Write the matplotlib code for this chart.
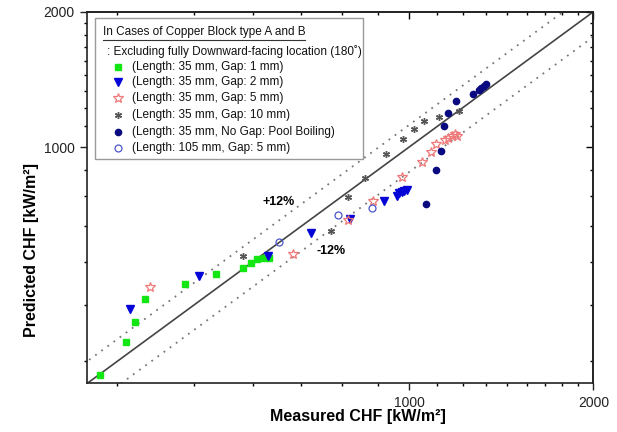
import numpy as np
import matplotlib
matplotlib.use("Agg")
import matplotlib.pyplot as plt
from matplotlib.patches import Rectangle
from matplotlib.ticker import FixedLocator, NullFormatter, FixedFormatter

plt.rcParams['font.family'] = ['Liberation Sans', 'DejaVu Sans']

# measured / predicted CHF [kW/m2] for each test series
gap1_meas = [313, 345, 357, 370, 431, 484, 536, 551, 565, 580, 591]
gap1_pred = [311, 369, 407, 458, 496, 521, 539, 553, 562, 567, 567]

gap2_meas = [350, 453, 589, 691, 801, 911, 955, 964, 973, 981, 991]
gap2_pred = [436, 517, 571, 644, 693, 757, 780, 790, 794, 798, 801]

gap5_meas = [377, 645, 793, 874, 973, 1049, 1086, 1106, 1145, 1159, 1174, 1189, 1199]
gap5_pred = [488, 579, 689, 758, 857, 926, 975, 1014, 1039, 1049, 1056, 1067, 1059]

gap10_meas = [535, 745, 793, 847, 917, 977, 1020, 1059, 1119, 1208]
gap10_pred = [571, 651, 774, 855, 967, 1042, 1099, 1141, 1166, 1201]

pool_meas = [1066, 1107, 1125, 1141, 1155, 1191, 1269, 1298, 1310, 1323, 1335]
pool_pred = [745, 887, 980, 1112, 1193, 1264, 1310, 1341, 1353, 1368, 1379]

long_meas = [612, 765, 869]
long_pred = [614, 705, 731]

labels = [
    "(Length: 35 mm, Gap: 1 mm)",
    "(Length: 35 mm, Gap: 2 mm)",
    "(Length: 35 mm, Gap: 5 mm)",
    "(Length: 35 mm, Gap: 10 mm)",
    "(Length: 35 mm, No Gap: Pool Boiling)",
    "(Length: 105 mm, Gap: 5 mm)",
]

lo, hi = 298, 2000
band = 0.12

styles = [
    dict(marker='s', ms=4, color='#14e614', mec='#14e614', ls='none'),
    dict(marker='v', ms=6, color='#0505d8', mec='#0505d8', ls='none'),
    dict(marker='*', ms=7, color='none', mfc='none', mec='#f07878', mew=0.9, ls='none'),
    dict(marker=(6, 2, 0), ms=5, color='#555555', mec='#555555', mew=1.0, ls='none'),
    dict(marker='o', ms=4.5, color='#0a0a80', mec='#0a0a80', ls='none'),
    dict(marker='o', ms=5, mfc='none', mec='#4a55c8', mew=0.9, ls='none'),
]
series = [(gap1_meas, gap1_pred), (gap2_meas, gap2_pred), (gap5_meas, gap5_pred),
          (gap10_meas, gap10_pred), (pool_meas, pool_pred), (long_meas, long_pred)]

fig = plt.figure(figsize=(6.17, 4.32), dpi=100)
ax = fig.add_axes([0.1415, 0.1127, 0.8204, 0.8602])
ax.set_xscale('log')
ax.set_yscale('log')
ax.set_xlim(lo, hi)
ax.set_ylim(lo, hi)

# 1:1 line and the +/-12 % bands
ref = np.array([lo * 0.8, hi * 1.2])
ax.plot(ref, ref, color='#444444', lw=1.2, zorder=2)
ax.plot(ref, ref * (1 + band), color='#777777', lw=1.3, ls=(0, (1, 3.2)), zorder=2)
ax.plot(ref, ref * (1 - band), color='#777777', lw=1.3, ls=(0, (1, 3.2)), zorder=2)

for (xm, yp), st in zip(series, styles):
    ax.plot(xm, yp, zorder=3, **st)

ax.text(613, 753, "+12%", fontsize=9, fontweight='bold', ha='center', va='center')
ax.text(746, 587, "-12%", fontsize=9, fontweight='bold', ha='center', va='center')

# ticks: majors at 1000/2000, minors every 1000/9
major = [1000, 2000]
minor = [k * 1000 / 9 for k in range(3, 18) if k != 9]
for axis in (ax.xaxis, ax.yaxis):
    axis.set_major_locator(FixedLocator(major))
    axis.set_major_formatter(FixedFormatter(["1000", "2000"]))
    axis.set_minor_locator(FixedLocator(minor))
    axis.set_minor_formatter(NullFormatter())
ax.tick_params(which='major', length=5, width=1, direction='out', pad=4,
               labelsize=10, colors='#222222')
ax.tick_params(which='minor', length=2.5, width=1, direction='out')

ident = (lambda v: v, lambda v: v)
top = ax.secondary_xaxis('top', functions=ident)
right = ax.secondary_yaxis('right', functions=ident)
for sec, axis in ((top, top.xaxis), (right, right.yaxis)):
    axis.set_major_locator(FixedLocator(major))
    axis.set_minor_locator(FixedLocator(minor))
    axis.set_major_formatter(NullFormatter())
    axis.set_minor_formatter(NullFormatter())
    sec.tick_params(which='major', length=5, width=1, direction='in')
    sec.tick_params(which='minor', length=2.5, width=1, direction='in')
    for sp in sec.spines.values():
        sp.set_linewidth(1.2)
        sp.set_color('#222222')

for sp in ax.spines.values():
    sp.set_linewidth(1.2)
    sp.set_color('#222222')

ax.set_xlabel("Measured CHF [kW/m²]", fontsize=11.5, fontweight='bold')
ax.set_ylabel("Predicted CHF [kW/m²]", fontsize=11.5, fontweight='bold')
ax.xaxis.set_label_coords(0.535, -0.068)
ax.yaxis.set_label_coords(-0.095, 0.36)

# legend box
ax.add_patch(Rectangle((0.0152, 0.6028), 0.5294, 0.3794, transform=ax.transAxes,
                       fill=True, fc='white', ec='#999999', lw=1.0, zorder=5))
title = ax.text(0.0304, 0.9446, "In Cases of Copper Block type A and B", transform=ax.transAxes,
                fontsize=8.5, va='center', ha='left', zorder=6, color='#111111')
ax.text(0.0395, 0.8924, ": Excluding fully Downward-facing location (180˚)", transform=ax.transAxes,
        fontsize=8.5, va='center', ha='left', zorder=6, color='#111111')
rows_y = [0.852, 0.8116, 0.767, 0.722, 0.677, 0.6324]
for ry, lab, st in zip(rows_y, labels, styles):
    ax.plot([0.06], [ry], transform=ax.transAxes, zorder=6, clip_on=False, **st)
    ax.text(0.0877, ry, lab, transform=ax.transAxes, fontsize=8.5,
            va='center', ha='left', zorder=6, color='#111111')

# underline the legend heading
fig.canvas.draw()
bb = title.get_window_extent().transformed(ax.transAxes.inverted())
ax.plot([bb.x0, bb.x1], [bb.y0 - 0.004, bb.y0 - 0.004], transform=ax.transAxes,
        color='#333333', lw=0.8, zorder=6)

fig.savefig("out.png", dpi=100)
